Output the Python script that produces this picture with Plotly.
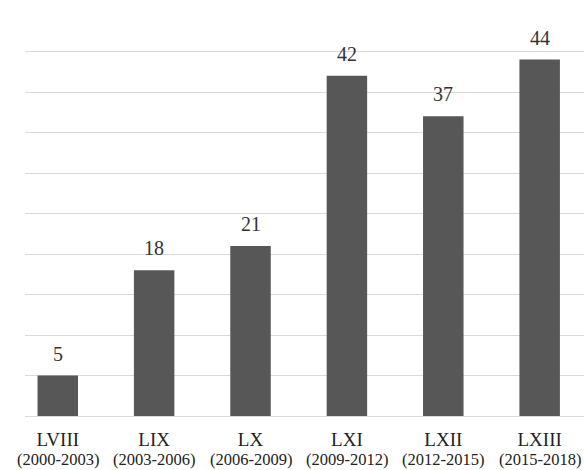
import plotly.graph_objects as go

# Legislatures and their periods
legislatures = ["LVIII", "LIX", "LX", "LXI", "LXII", "LXIII"]
periods = ["(2000-2003)", "(2003-2006)", "(2006-2009)", "(2009-2012)", "(2012-2015)", "(2015-2018)"]
counts = [5, 18, 21, 42, 37, 44]

SERIF = "'Liberation Serif', 'DejaVu Serif', serif"

fig = go.Figure(
    go.Bar(
        x=legislatures,
        y=counts,
        marker=dict(color="#575757", line=dict(width=0)),
        width=0.42,
        hoverinfo="skip",
    )
)

# Value labels above each bar
for leg, val in zip(legislatures, counts):
    fig.add_annotation(
        x=leg, y=val, text=str(val), showarrow=False,
        yanchor="bottom", yshift=9,
        font=dict(family=SERIF, size=20, color="#333333"),
    )

# Period line under each legislature label
for leg, per in zip(legislatures, periods):
    fig.add_annotation(
        x=leg, xref="x", y=0, yref="paper", text=per, showarrow=False,
        yanchor="top", yshift=-33, borderpad=0,
        font=dict(family=SERIF, size=16.5, color="#222222"),
    )

fig.update_layout(
    width=584, height=470,
    margin=dict(l=25, r=0, t=11, b=54),
    paper_bgcolor="white", plot_bgcolor="white",
    showlegend=False,
)
fig.update_xaxes(
    type="category",
    range=[-0.34, 5.46],
    showgrid=False,
    showline=True, linecolor="#d9d9d9", linewidth=1,
    ticks="", ticklabelstandoff=6,
    tickfont=dict(family=SERIF, size=19, color="#222222"),
)
fig.update_yaxes(
    range=[0, 50], dtick=5,
    showgrid=True, gridcolor="#d9d9d9", gridwidth=1,
    showticklabels=False, zeroline=False, showline=False,
)

fig.write_html("out.html")
